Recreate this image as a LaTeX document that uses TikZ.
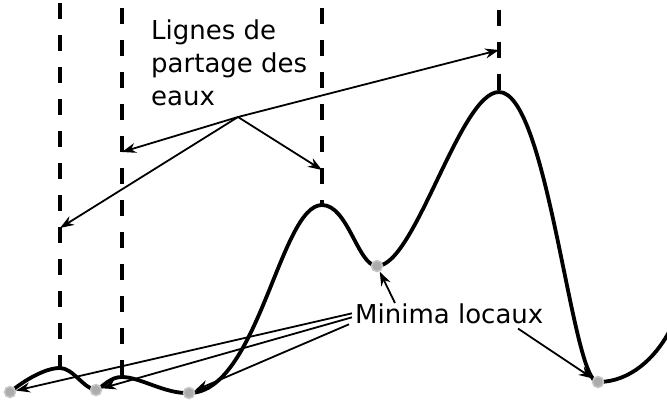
\documentclass[tikz,border=0pt]{standalone}
\usepackage{fontspec}
\setmainfont{DejaVu Sans}
\usetikzlibrary{arrows.meta,positioning}
\tikzset{
  relief/.style = {line width=3.8pt, line cap=round, line join=round},
  divide/.style = {line width=3.4pt, dash pattern=on 16pt off 16pt},
  ptr/.style    = {line width=1.8pt, -{Stealth[length=14pt,width=10pt]}},
  mini/.style   = {circle, fill=gray!65, draw=gray!45, line width=1.5pt,
                   inner sep=0pt, minimum size=11pt},
  lbl/.style    = {font=\fontsize{26}{33}\selectfont, inner sep=0pt},
}

\begin{document}
\begin{tikzpicture}[x=1pt,y=-1pt]
  \useasboundingbox (0,0) rectangle (667,410);
  % peaks and minima
  \coordinate (p1) at (60,368);
  \coordinate (p2) at (122,377);
  \coordinate (p3) at (322,205);
  \coordinate (p4) at (499,92);
  \coordinate (c1) at (10,392);
  \coordinate (c2) at (96,390);
  \coordinate (c3) at (189,393);
  \coordinate (c4) at (377,266);
  \coordinate (c5) at (598,382);
  \coordinate (rim) at (669,332);
  % watershed lines
  \foreach \x/\t/\p in {60/3/p1, 122/8/p2, 322/8/p3, 499/10/p4}
    \draw[divide] (\x,\t) -- (\p);
  % relief
  \draw[relief] (c1) .. controls (25,380) and (45,368) .. (p1)
    .. controls (73,368) and (84,389) .. (c2)
    .. controls (104,386) and (110,377) .. (p2)
    .. controls (140,377) and (165,394) .. (c3)
    .. controls (258,393) and (280,205) .. (p3)
    .. controls (348,205) and (358,266) .. (c4)
    .. controls (415,266) and (460,92) .. (p4)
    .. controls (548,92) and (572,384) .. (c5)
    .. controls (630,382) and (655,358) .. (rim);
  \foreach \i in {1,...,5}
    \node[mini] (m\i) at (c\i) {};
  % labels
  \node[lbl, anchor=north west, align=left] (lignes) at (151,20)
    {Lignes de\\partage des\\eaux};
  \node[lbl, anchor=base west] (minima) at (355,323) {Minima locaux};
  % watershed pointers
  \coordinate (src) at (238,117);
  \coordinate (t1) at (60,228);
  \coordinate (t2) at (122,152);
  \coordinate (t3) at (322,170);
  \coordinate (t4) at (499,50);
  \foreach \t in {t1,t2,t3,t4}
    \draw[ptr] (src) -- (\t);
  % minima pointers
  \draw[ptr] ([xshift=-3pt]minima.west) -- (m1);
  \draw[ptr] ([xshift=-3pt,yshift=-4pt]minima.west) -- (m2);
  \draw[ptr] ([xshift=-6pt,yshift=-11pt]minima.west) -- (m3);
  \draw[ptr] ([xshift=40pt]minima.north west) -- (m4);
  \draw[ptr] ([xshift=163pt,yshift=-5pt]minima.south west) -- (m5);
\end{tikzpicture}
\end{document}
